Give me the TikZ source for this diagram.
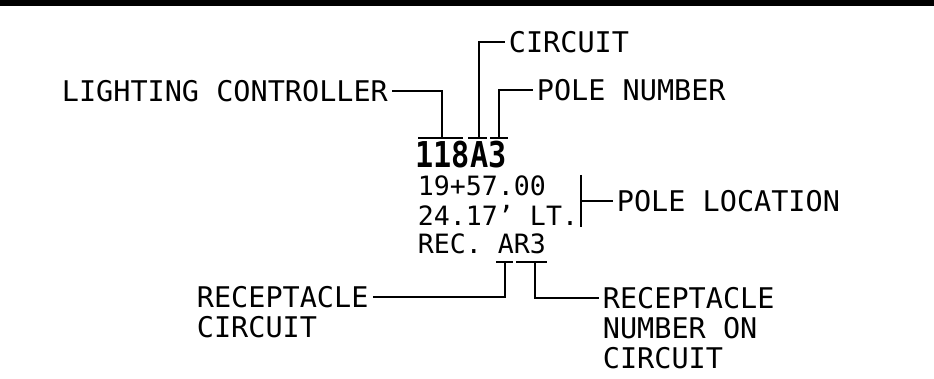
\documentclass[tikz,border=0pt]{standalone}
\usepackage{fontspec}
\usepackage{graphicx}
\newfontfamily\cadfont{DejaVu Sans Mono}
\usetikzlibrary{positioning}
\tikzset{
  lbl/.style={font=\cadfont\fontsize{14.25}{14.25}\selectfont, inner sep=0pt, anchor=west},
  val/.style={font=\cadfont\fontsize{13.3}{13.3}\selectfont, inner sep=0pt, anchor=west},
  lead/.style={line width=0.9pt, shorten <=2pt},
  uline/.style={line width=0.9pt}
}

\begin{document}
\begin{tikzpicture}[x=0.5pt, y=-0.5pt]
  \useasboundingbox (0,0) rectangle (934,379);
  \fill[black] (0,0.5) rectangle (934,6.5);

  % pole tag
  \node[font=\cadfont\bfseries\fontsize{17.8}{17.8}\selectfont, inner sep=0pt, anchor=west] (tag) at (415,155) {\scalebox{0.85}[1]{118A3}};
  \node[val] (sta) at (417.5,186) {19+57.00};
  \node[val] (off) at (417.5,215) {24.17’ LT.};
  \node[val] (rec) at (417.5,244) {REC. AR3};

  % underlines
  \draw[uline] (418,138) -- (463,138);
  \draw[uline] (468,138) -- (487,138);
  \draw[uline] (490,138) -- (508,138);
  \draw[uline] (496,262) -- (513,262);
  \draw[uline] (516,262) -- (547,262);

  \coordinate (t118) at (442,138);
  \coordinate (tA) at (479,138);
  \coordinate (t3) at (499,138);
  \coordinate (tAR) at (505,262);
  \coordinate (tN) at (535,262);
  \coordinate (btop) at (581,175);
  \coordinate (bmid) at (581,201);
  \coordinate (bbot) at (581,227);

  % labels
  \node[lbl] (ctrl) at (61.5,91) {LIGHTING CONTROLLER};
  \node[lbl] (circ) at (508.5,42) {CIRCUIT};
  \node[lbl] (pnum) at (536.5,90) {POLE NUMBER};
  \node[lbl] (ploc) at (616.5,201) {POLE LOCATION};
  \node[lbl] (rcirc) at (196.5,297) {RECEPTACLE};
  \node[lbl, below=3.75pt of rcirc.south west, anchor=north west] (rcirc2) {CIRCUIT};
  \node[lbl] (rnum) at (602.5,298) {RECEPTACLE};
  \node[lbl, below=3.75pt of rnum.south west, anchor=north west] (rnum2) {NUMBER ON};
  \node[lbl, below=3.75pt of rnum2.south west, anchor=north west] (rnum3) {CIRCUIT};

  % leaders
  \draw[lead] (ctrl.east) -| (t118);
  \draw[lead] (circ.west) -| (tA);
  \draw[lead] (pnum.west) -| (t3);
  \draw[lead] (ploc.west) -- (bmid);
  \draw[uline] (btop) -- (bbot);
  \draw[lead] (rcirc.east) -| (tAR);
  \draw[lead] (rnum.west) -| (tN);
\end{tikzpicture}
\end{document}
